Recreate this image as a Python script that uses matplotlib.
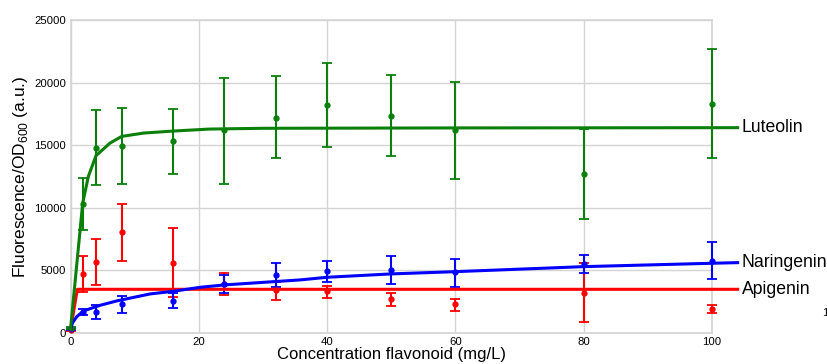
import matplotlib
matplotlib.use("Agg")
import matplotlib.pyplot as plt

plt.rcParams['font.family'] = ['Liberation Sans', 'DejaVu Sans']
plt.rcParams['mathtext.fontset'] = 'custom'
plt.rcParams['mathtext.rm'] = 'Liberation Sans'

conc = [0, 2, 4, 8, 16, 24, 32, 40, 50, 60, 80, 100]

lut_mean = [370, 10300, 14800, 14950, 15300, 16200, 17200, 18190, 17360, 16210, 12720, 18320]
lut_hi = [450, 12400, 17800, 18000, 17900, 20400, 20500, 21560, 20630, 20070, 16320, 22680]
lut_lo = [290, 8200, 11800, 11900, 12700, 11900, 14000, 14860, 14110, 12300, 9100, 13950]

nar_mean = [300, 1700, 1650, 2320, 2530, 3890, 4640, 4960, 5040, 4850, 5520, 5780]
nar_hi = [380, 1950, 2240, 2980, 3170, 4610, 5620, 5760, 6130, 5940, 6260, 7300]
nar_lo = [220, 1450, 1120, 1620, 1970, 3170, 3700, 4050, 3940, 3650, 4770, 4320]

api_mean = [240, 4720, 5680, 8050, 5630, 3890, 3410, 3330, 2720, 2290, 3170, 1940]
api_hi = [320, 6160, 7520, 10290, 8400, 4820, 4100, 3780, 3170, 2740, 5570, 2260]
api_lo = [160, 3250, 3810, 5790, 2850, 3070, 2610, 2830, 2180, 1760, 850, 1600]

# fitted curves
lut_fit_x = [0, 1.9, 2.78, 3.97, 6.16, 7.97, 11.4, 16, 21.7, 30, 60, 104]
lut_fit_y = [300, 10370, 12500, 14160, 15170, 15700, 15970, 16130, 16290, 16350, 16380, 16400]

nar_fit_x = [0, 0.3, 0.97, 2, 4.6, 7.2, 12.4, 16, 20.2, 24, 35.8, 40, 50, 60, 80, 100, 104]
nar_fit_y = [240, 800, 1300, 1760, 2210, 2560, 3120, 3330, 3650, 3840, 4240, 4450, 4720, 4900, 5300, 5570, 5620]

api_fit_x = [0, 1.06, 104]
api_fit_y = [200, 3490, 3490]

labels = ['Luteolin', 'Naringenin', 'Apigenin']
colors = ['#0a800a', '#0000ff', '#ff0000']
label_y = [16400, 5620, 3490]

fig = plt.figure(figsize=(8.28, 3.64), dpi=100)
ax = fig.add_axes([70.5/828, 1-333/364, (712-70.5)/828, (333-20)/364])

series = [
    (lut_mean, lut_hi, lut_lo, lut_fit_x, lut_fit_y),
    (nar_mean, nar_hi, nar_lo, nar_fit_x, nar_fit_y),
    (api_mean, api_hi, api_lo, api_fit_x, api_fit_y),
]
for i in [2, 1, 0]:
    m, hi, lo, fx, fy = series[i]
    c = colors[i]
    err = [[mm - l for mm, l in zip(m, lo)], [h - mm for mm, h in zip(m, hi)]]
    ax.errorbar(conc, m, yerr=err, fmt='o', color=c, ms=3.5, elinewidth=1.5,
                capsize=3.5, capthick=1.3, clip_on=False, zorder=3)
    ax.plot(fx, fy, color=c, lw=2.2, clip_on=False, zorder=4)
    ax.text(104.6, label_y[i], labels[i], color='black', fontsize=12.7,
            va='center', ha='left', clip_on=False)

ax.set_xlim(0, 100)
ax.set_ylim(0, 25000)
ax.set_xticks([0, 20, 40, 60, 80, 100])
ax.set_yticks([0, 5000, 10000, 15000, 20000, 25000])
ax.grid(True, color='#d4d4d4', lw=1.0)
ax.set_axisbelow(True)
for s in ax.spines.values():
    s.set_color('#d4d4d4')
    s.set_linewidth(1.2)
ax.tick_params(length=0, labelsize=8.2, pad=3)
ax.set_xlabel('Concentration flavonoid (mg/L)', fontsize=12, labelpad=0)
ax.set_ylabel(r'Fluorescence/OD$_{\mathregular{600}}$ (a.u.)', fontsize=12.5, labelpad=3)
fig.text(822/828, 1-313/364, '1', fontsize=8.2, va='center', ha='left')

fig.savefig('out.png', dpi=100)
